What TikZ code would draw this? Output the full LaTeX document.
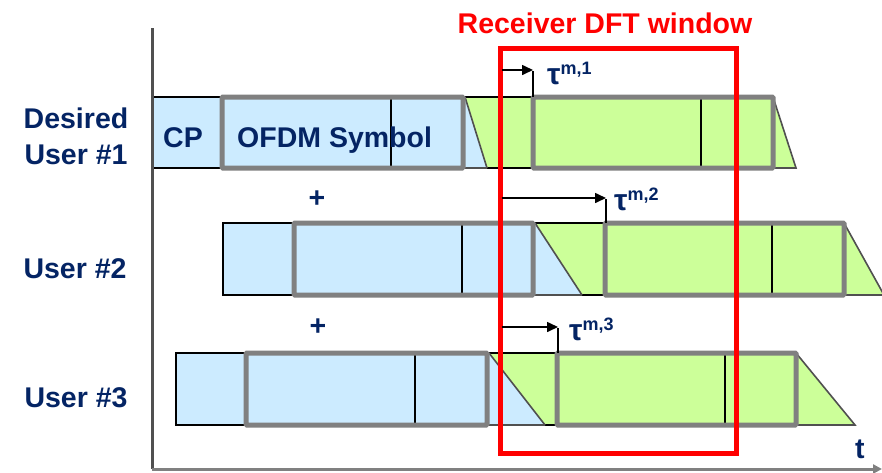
\documentclass[tikz,border=0pt]{standalone}
\usepackage{fontspec}
\setmainfont{Liberation Sans}
\usetikzlibrary{arrows.meta}
\definecolor{navy}{RGB}{4,36,100}
\definecolor{lblue}{RGB}{204,235,255}
\definecolor{lgreen}{RGB}{204,255,153}
\definecolor{rgray}{RGB}{128,128,128}
\definecolor{sgray}{RGB}{80,80,80}
\tikzset{
  lbl/.style={text=navy, font=\fontsize{28.5}{31}\selectfont\bfseries, inner sep=0pt},
  thinblk/.style={black, line width=1.6pt},
  slant/.style={sgray, line width=1.6pt},
  symbox/.style={rgray, line width=5pt, rounded corners=1pt},
  taua/.style={black, line width=1.6pt, -{Triangle[length=11pt,width=10pt]}},
  taul/.style={black, line width=1.6pt},
}
\newcommand\tauLbl[1]{\fontsize{30}{32}\selectfont τ\raisebox{9.5pt}{\fontsize{18}{20}\selectfont #1}}
\begin{document}
\begin{tikzpicture}[x=1pt,y=-1pt]
\useasboundingbox (0,0) rectangle (882,472);
% rows
\foreach \T/\B/\L/\Ga/\Da/\Ea/\Sa/\Sb/\Gb/\Db/\Eb/\Sc in
  {97/168/152/222/391/463/465/487/533/701/773/796,
   223/295/223/294/462/533/535/582/605/772/844/884,
   353/425/176/246/415/487/489/545/557/725/796/855}{
  \fill[lblue] (\L,\T) -- (\Sa,\T) -- (\Sb,\B) -- (\L,\B) -- cycle;
  \fill[lgreen] (\Sa,\T) -- (\Eb,\T) -- (\Sc,\B) -- (\Sb,\B) -- cycle;
  \draw[thinblk] (\Ga,\T) -- (\L,\T) -- (\L,\B) -- (\Ga,\B);
  \draw[thinblk] (\Sa,\T) -- (\Gb,\T) (\Sb,\B) -- (\Gb,\B);
  \draw[slant] (\Ea,\B) -- (\Sb,\B) (\Sa,\T) -- (\Sb,\B);
  \draw[slant] (\Eb,\T) -- (\Sc,\B) -- (\Eb,\B);
  \draw[thinblk] (\Da,\T) -- (\Da,\B) (\Db,\T) -- (\Db,\B);
  \draw[symbox] (\Ga,\T) rectangle (\Ea,\B);
  \draw[symbox] (\Gb,\T) rectangle (\Eb,\B);
}
% axes
\coordinate (ytop) at (152,28);
\coordinate (orig) at (152,469);
\coordinate (xend) at (882,469);
\draw[sgray, line width=3pt] (ytop) -- (orig);
\draw[rgray, line width=3pt, -{Triangle[length=9pt,width=9pt]}] (orig) -- (xend);
% receiver window
\draw[red, line width=5pt] (500,48) rectangle (736,453);
\node[lbl, text=red, anchor=base] (title) at (605,33) {Receiver DFT window};
% tau arrows
\coordinate (a1s) at (502,70); \coordinate (a1e) at (533,70); \coordinate (a1d) at (533,97);
\coordinate (a2s) at (502,198); \coordinate (a2e) at (606,198); \coordinate (a2d) at (606,223);
\coordinate (a3s) at (502,327); \coordinate (a3e) at (558,327); \coordinate (a3d) at (558,353);
\draw[taua] (a1s) -- (a1e);
\draw[taul] ([yshift=-0.8pt]a1e) -- (a1d);
\draw[taua] (a2s) -- (a2e);
\draw[taul] ([yshift=-0.8pt]a2e) -- (a2d);
\draw[taua] (a3s) -- (a3e);
\draw[taul] ([yshift=-0.8pt]a3e) -- (a3d);
\node[lbl, anchor=base west] (t1) at (547,84) {\tauLbl{m,1}};
\node[lbl, anchor=base west] (t2) at (614,210) {\tauLbl{m,2}};
\node[lbl, anchor=base west] (t3) at (569,340) {\tauLbl{m,3}};
% texts
\node[lbl, anchor=base] (d1) at (76,128) {Desired};
\node[lbl, anchor=base] (u1) at (76,164) {User \#1};
\node[lbl, anchor=base] (u2) at (75,278) {User \#2};
\node[lbl, anchor=base] (u3) at (76,407) {User \#3};
\node[lbl, anchor=base west] (cp) at (163,147) {CP};
\node[lbl, anchor=base west] (ofdm) at (237,147) {OFDM Symbol};
\node[lbl] (p1) at (317,199) {+};
\node[lbl] (p2) at (318,327) {+};
\node[lbl, anchor=base west] (tl) at (855,458) {t};
\end{tikzpicture}
\end{document}
